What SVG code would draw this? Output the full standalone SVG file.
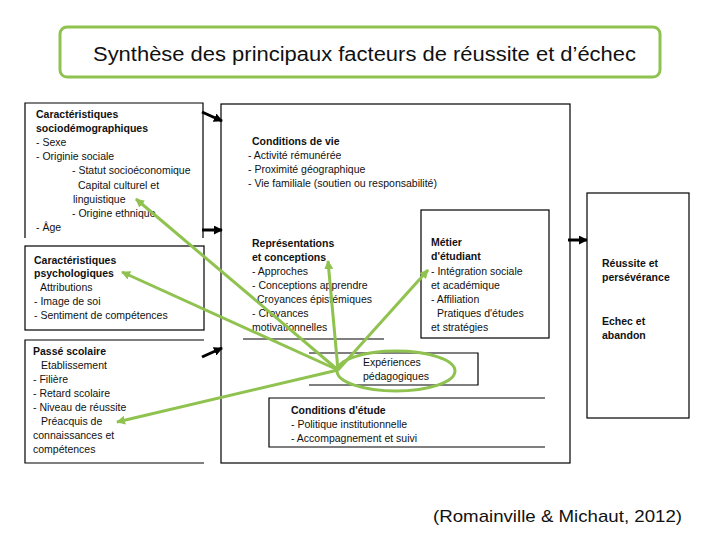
<svg xmlns="http://www.w3.org/2000/svg" width="720" height="540" viewBox="0 0 720 540">
<style>
text{font-family:"Liberation Sans",Arial,sans-serif;font-size:10.5px;fill:#111}
.b{font-weight:bold}
.box{fill:none;stroke:#000;stroke-width:1.2}
.ln{stroke:#000;stroke-width:1.2;fill:none}
.blk{stroke:#000;stroke-width:3;fill:none;marker-end:url(#ah)}
.grn{stroke:#8fc24f;stroke-width:3;fill:none;marker-end:url(#gh)}
</style>
<defs>
<marker id="ah" viewBox="0 0 10 10" refX="9" refY="5" markerWidth="3" markerHeight="3" orient="auto"><path d="M0,0L10,5L0,10z" fill="#000"/></marker>
<marker id="gh" viewBox="0 0 10 10" refX="9" refY="5" markerWidth="3" markerHeight="3" orient="auto"><path d="M0,0L10,5L0,10z" fill="#8fc24f"/></marker>
</defs>
<rect width="720" height="540" fill="#fff"/>

<g id="title">
<rect x="60" y="27" width="600" height="50" rx="7" fill="#fff" stroke="#8fc24f" stroke-width="3"/>
<text x="93" y="61" style="font-size:20px" textLength="543" lengthAdjust="spacingAndGlyphs">Synthèse des principaux facteurs de réussite et d’échec</text>
</g>

<g id="socio">
<path class="ln" d="M25,238V103H203V238"/>
<text x="36" y="118" class="b">Caractéristiques</text>
<text x="36" y="132" class="b">sociodémographiques</text>
<text x="36" y="146">- Sexe</text>
<text x="36" y="160">- Originie sociale</text>
<text x="72" y="174">- Statut socioéconomique</text>
<text x="78" y="189">Capital culturel et</text>
<text x="73" y="203">linguistique</text>
<text x="72" y="217">- Origine ethnique</text>
<text x="36" y="231">- Âge</text>
</g>

<g id="psycho">
<rect class="box" x="25" y="246" width="179" height="84"/>
<text x="34" y="264" class="b">Caractéristiques</text>
<text x="34" y="277" class="b">psychologiques</text>
<text x="40" y="291">Attributions</text>
<text x="34" y="305">- Image de soi</text>
<text x="34" y="319">- Sentiment de compétences</text>
</g>

<g id="passe">
<path class="ln" d="M204,340H25V463H204"/>
<text x="33" y="355" class="b">Passé scolaire</text>
<text x="41" y="369">Etablissement</text>
<text x="33" y="383">- Filière</text>
<text x="33" y="397">- Retard scolaire</text>
<text x="33" y="411">- Niveau de réussite</text>
<text x="41" y="425">Préacquis de</text>
<text x="33" y="439">connaissances et</text>
<text x="33" y="453">compétences</text>
</g>

<g id="centre">
<rect class="box" x="221" y="104" width="349" height="359"/>
</g>

<g id="vie">
<text x="252" y="145" class="b">Conditions de vie</text>
<text x="248" y="159">- Activité rémunérée</text>
<text x="248" y="173">- Proximité géographique</text>
<text x="248" y="187">- Vie familiale (soutien ou responsabilité)</text>
</g>

<g id="representations">
<path class="ln" d="M243,339H384"/>
<text x="252" y="247" class="b">Représentations</text>
<text x="252" y="261" class="b">et conceptions</text>
<text x="252" y="275">- Approches</text>
<text x="252" y="289">- Conceptions apprendre</text>
<text x="257" y="303">Croyances épistémiques</text>
<text x="252" y="317">- Croyances</text>
<text x="252" y="331">motivationnelles</text>
</g>

<g id="metier">
<rect class="box" x="421" y="210" width="128" height="128"/>
<text x="431" y="246" class="b">Métier</text>
<text x="431" y="260" class="b">d'étudiant</text>
<text x="431" y="275">- Intégration sociale</text>
<text x="431" y="289">et académique</text>
<text x="431" y="303">- Affiliation</text>
<text x="437" y="317">Pratiques d'études</text>
<text x="431" y="331">et stratégies</text>
</g>

<g id="experiences">
<path class="ln" d="M309,353H478V385H309"/>
<text x="363" y="366">Expériences</text>
<text x="363" y="380">pédagogiques</text>
<ellipse cx="396" cy="371" rx="59" ry="20" fill="none" stroke="#8fc24f" stroke-width="3"/>
</g>

<g id="etude">
<path class="ln" d="M545,398H269V447H545"/>
<text x="291" y="414" class="b">Conditions d'étude</text>
<text x="291" y="428">- Politique institutionnelle</text>
<text x="291" y="442">- Accompagnement et suivi</text>
</g>

<g id="resultat">
<rect class="box" x="587" y="193" width="102" height="225"/>
<text x="602" y="267" class="b">Réussite et</text>
<text x="602" y="281" class="b">persévérance</text>
<text x="602" y="325" class="b">Echec et</text>
<text x="602" y="339" class="b">abandon</text>
</g>

<g id="connectors">
<path class="blk" d="M202,112L222,121"/>
<path class="blk" d="M202,230H222"/>
<path class="blk" d="M202,357L222,348"/>
<path class="blk" d="M568,240H587"/>
<path class="grn" d="M338,370L136,199"/>
<path class="grn" d="M338,370L122,272"/>
<path class="grn" d="M338,370L117,422"/>
<path class="grn" d="M338,370L328,261"/>
<path class="grn" d="M338,370L428,270"/>
</g>

<text x="433" y="522" style="font-size:17px" textLength="249" lengthAdjust="spacingAndGlyphs">(Romainville &amp; Michaut, 2012)</text>
</svg>
